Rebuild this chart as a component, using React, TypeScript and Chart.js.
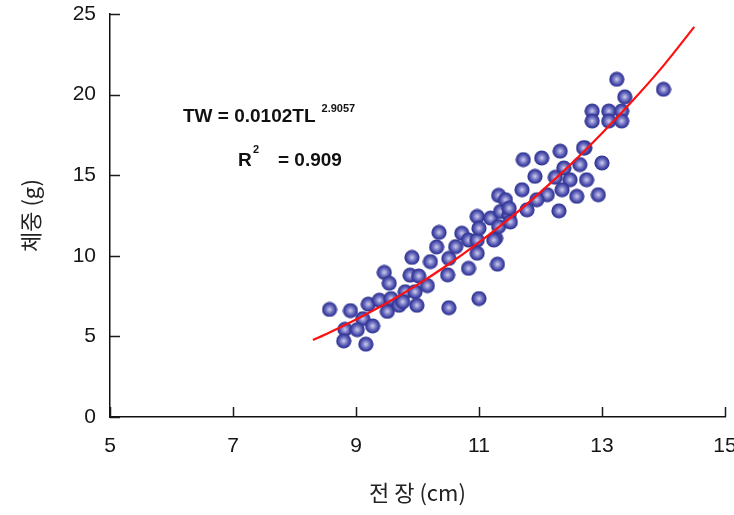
import React, { useEffect, useRef } from "react";
import { Chart, registerables } from "chart.js";

Chart.register(...registerables);

// Total length (cm) of each fish
const lengths = [
  8.57, 8.91, 9.11, 8.82, 9.02, 9.27, 8.8, 9.16, 9.2, 9.38,
  9.51, 9.57, 9.46, 9.54, 9.7, 9.8, 9.91, 9.96, 10.16, 9.99,
  9.88, 10.02, 9.76, 10.21, 10.31, 10.35, 10.49, 10.51, 10.51, 10.62,
  10.72, 10.83, 10.83, 10.97, 10.97, 11.0, 10.97, 11.0, 11.19, 11.27,
  11.32, 11.3, 11.32, 11.35, 11.43, 11.49, 11.51, 11.49, 11.24, 11.72,
  12.02, 12.32, 12.72, 13.0, 12.64, 12.38, 11.91, 12.24, 12.48, 12.75,
  11.7, 12.11, 12.35, 12.59, 12.94, 11.94, 11.78, 12.3, 13.24, 13.37,
  14.0, 12.84, 12.84, 13.11, 13.11, 13.32, 13.32, 12.7,
];
// Total weight (g) of each fish
const weights = [
  6.67, 6.6, 6.1, 5.44, 5.42, 5.65, 4.72, 4.52, 7.0, 7.25,
  6.55, 7.35, 8.97, 8.3, 6.93, 7.77, 9.9, 7.77, 8.15, 6.93,
  8.8, 8.75, 7.15, 9.64, 10.55, 11.45, 8.82, 6.78, 9.84, 10.57,
  11.4, 9.22, 10.98, 10.98, 10.16, 7.35, 12.44, 11.71, 12.34, 11.1,
  11.82, 9.48, 13.75, 12.75, 13.48, 12.54, 12.1, 12.95, 10.98, 15.97,
  16.07, 16.49, 16.7, 15.76, 15.66, 15.45, 14.93, 14.87, 14.72, 14.72,
  14.1, 13.79, 14.1, 13.69, 13.79, 13.48, 12.85, 12.79, 20.95, 19.86,
  20.33, 18.98, 18.36, 18.98, 18.36, 18.98, 18.36, 16.7,
];
// Fitted curve (TW = 0.0102 TL^2.9057)
const curveX = [8.3, 8.5, 9, 9.5, 10, 10.5, 11, 11.5, 12, 12.5, 13, 13.5, 14, 14.5];
const curveY = [4.78, 5.12, 6.05, 7.07, 8.21, 9.46, 10.83, 12.32, 13.95, 15.7, 17.6, 19.63, 21.8, 24.2];

const xTicks = [5, 7, 9, 11, 13, 15];
const yTicks = [0, 5, 10, 15, 20, 25];

const xTitle = "전 장 (cm)";
const yTitle = "체중 (g)";
const eqMain = "TW = 0.0102TL";
const eqExp = "2.9057";
const r2Label = "R";
const r2Value = "= 0.909";

function makeDot(): HTMLCanvasElement {
  const size = 16;
  const c = document.createElement("canvas");
  c.width = size;
  c.height = size;
  const g = c.getContext("2d")!;
  const grad = g.createRadialGradient(8, 8, 0.5, 8, 8, 7.8);
  grad.addColorStop(0, "#c4c4ea");
  grad.addColorStop(0.35, "#7f80c8");
  grad.addColorStop(0.7, "#4548a8");
  grad.addColorStop(1, "#262a86");
  g.fillStyle = grad;
  g.beginPath();
  g.arc(8, 8, 7.6, 0, Math.PI * 2);
  g.fill();
  return c;
}

const EQ_FONT = "'Liberation Sans', Arial, sans-serif";

const overlay = {
  id: "overlay",
  afterDatasetsDraw(chart: any) {
    const { ctx, chartArea, scales } = chart;
    const x = scales.x;
    const y = scales.y;
    ctx.save();
    ctx.strokeStyle = "#1a1a1a";
    ctx.lineWidth = 1.5;
    ctx.beginPath();
    xTicks.forEach((v) => {
      const px = Math.round(x.getPixelForValue(v)) + 0.5;
      ctx.moveTo(px, chartArea.bottom);
      ctx.lineTo(px, chartArea.bottom - 10);
    });
    yTicks.forEach((v) => {
      const py = Math.round(y.getPixelForValue(v)) + 0.5;
      ctx.moveTo(chartArea.left, py);
      ctx.lineTo(chartArea.left + 10, py);
    });
    ctx.stroke();

    // equation text
    const L = chartArea.left;
    const T = chartArea.top;
    ctx.fillStyle = "#111";
    ctx.textBaseline = "middle";
    ctx.textAlign = "left";
    ctx.font = `bold 19px ${EQ_FONT}`;
    ctx.fillText(eqMain, L + 73, T + 103);
    const w = ctx.measureText(eqMain).width;
    ctx.font = `bold 11px ${EQ_FONT}`;
    ctx.fillText(eqExp, L + 73 + w + 6, T + 95);
    ctx.font = `bold 19px ${EQ_FONT}`;
    ctx.fillText(r2Label, L + 128, T + 147);
    ctx.font = `bold 11px ${EQ_FONT}`;
    ctx.fillText("2", L + 143, T + 136);
    ctx.font = `bold 19px ${EQ_FONT}`;
    ctx.fillText(r2Value, L + 168, T + 147);
    ctx.restore();
  },
};

export default function App() {
  const ref = useRef<HTMLCanvasElement>(null);

  useEffect(() => {
    if (!ref.current) return;
    const dot = makeDot();
    const points = lengths.map((l, i) => ({ x: l, y: weights[i] }));
    const curve = curveX.map((v, i) => ({ x: v, y: curveY[i] }));
    const tickFont = { family: "'Liberation Sans', Arial, sans-serif", size: 21 };
    const titleFont = { family: "'Noto Sans CJK KR', sans-serif", size: 22 };

    const chart = new Chart(ref.current, {
      type: "scatter",
      data: {
        datasets: [
          {
            type: "line",
            label: "fit",
            data: curve,
            borderColor: "#ff1010",
            borderWidth: 2.2,
            pointRadius: 0,
            tension: 0.4,
            fill: false,
            order: 0,
          } as any,
          {
            label: "obs",
            data: points,
            pointStyle: dot as any,
            pointRadius: 8,
            order: 1,
          },
        ],
      },
      options: {
        animation: false,
        responsive: false,
        events: [],
        layout: { padding: { top: 14, right: 8, left: 0, bottom: 0 } },
        plugins: {
          legend: { display: false },
          tooltip: { enabled: false },
        },
        scales: {
          x: {
            type: "linear",
            min: 5,
            max: 15,
            afterBuildTicks: (s: any) => {
              s.ticks = xTicks.map((v) => ({ value: v }));
            },
            afterFit: (s: any) => {
              s.height = 98;
              s.paddingLeft = 0;
              s.paddingRight = 0;
            },
            ticks: { color: "#151515", font: tickFont, padding: 17, maxRotation: 0 },
            grid: { display: false, drawTicks: false },
            border: { display: true, color: "#111", width: 1.5 },
            title: {
              display: true,
              text: xTitle,
              color: "#222",
              font: titleFont,
              padding: { top: 0, bottom: 9 },
            },
          },
          y: {
            type: "linear",
            min: 0,
            max: 25,
            afterBuildTicks: (s: any) => {
              s.ticks = yTicks.map((v) => ({ value: v }));
            },
            afterFit: (s: any) => {
              s.width = 110;
              s.paddingTop = 0;
              s.paddingBottom = 0;
            },
            ticks: { color: "#151515", font: tickFont, padding: 14 },
            grid: { display: false, drawTicks: false },
            border: { display: true, color: "#111", width: 1.5 },
            title: {
              display: true,
              text: yTitle,
              color: "#222",
              font: titleFont,
              padding: { top: 17, bottom: 0 },
            },
          },
        },
      },
      plugins: [overlay],
    });
    return () => chart.destroy();
  }, []);

  return (
    <div
      style={{
        position: "fixed",
        left: 0,
        top: 0,
        width: 734,
        height: 515,
        overflow: "hidden",
        background: "#fff",
      }}
    >
      <canvas ref={ref} width={734} height={515} style={{ display: "block" }} />
    </div>
  );
}
